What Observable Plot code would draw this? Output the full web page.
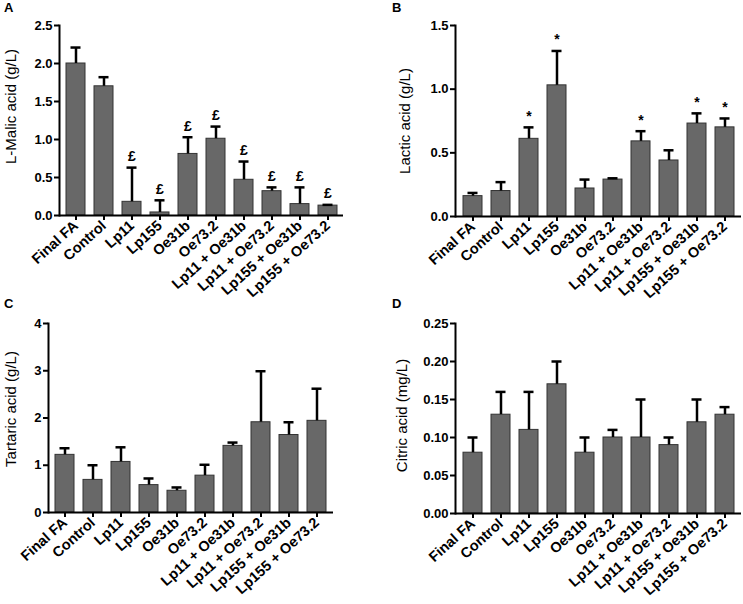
<!DOCTYPE html>
<html>
<head>
<meta charset="utf-8">
<script src="https://cdn.jsdelivr.net/npm/d3@7"></script>
<script src="https://cdn.jsdelivr.net/npm/@observablehq/plot@0.6"></script>
<style>
  body { margin: 0; background: #fff; }
  #root { position: relative; width: 743px; height: 604px; overflow: hidden; background: #fff; }
  .panel { position: absolute; }
  .letter { position: absolute; font-family: "Liberation Sans", Arial, sans-serif; font-weight: bold; font-size: 13px; color: #000; }
</style>
</head>
<body>
<div id="root"></div>
<script>
const categories = ["Final FA", "Control", "Lp11", "Lp155", "Oe31b", "Oe73.2", "Lp11 + Oe31b", "Lp11 + Oe73.2", "Lp155 + Oe31b", "Lp155 + Oe73.2"];

// Panel A: L-Malic acid (g/L)
const malicMean  = [2.00, 1.70, 0.18, 0.04, 0.81, 1.01, 0.47, 0.32, 0.15, 0.13];
const malicUpper = [2.21, 1.82, 0.63, 0.20, 1.03, 1.17, 0.71, 0.37, 0.37, 0.14];
const malicSig   = ["", "", "£", "£", "£", "£", "£", "£", "£", "£"];
const malicTicks = [0, 0.5, 1.0, 1.5, 2.0, 2.5];

// Panel B: Lactic acid (g/L)
const lacticMean  = [0.16, 0.20, 0.61, 1.03, 0.22, 0.29, 0.59, 0.44, 0.73, 0.70];
const lacticUpper = [0.185, 0.27, 0.70, 1.30, 0.29, 0.30, 0.67, 0.52, 0.81, 0.77];
const lacticSig   = ["", "", "*", "*", "", "", "*", "", "*", "*"];
const lacticTicks = [0, 0.5, 1.0, 1.5];

// Panel C: Tartaric acid (g/L)
const tartaricMean  = [1.22, 0.69, 1.07, 0.58, 0.46, 0.78, 1.41, 1.91, 1.64, 1.94];
const tartaricUpper = [1.36, 1.00, 1.38, 0.72, 0.53, 1.01, 1.48, 2.99, 1.91, 2.62];
const tartaricSig   = ["", "", "", "", "", "", "", "", "", ""];
const tartaricTicks = [0, 1, 2, 3, 4];

// Panel D: Citric acid (mg/L)
const citricMean  = [0.08, 0.13, 0.11, 0.17, 0.08, 0.10, 0.10, 0.09, 0.12, 0.13];
const citricUpper = [0.10, 0.16, 0.16, 0.20, 0.10, 0.11, 0.15, 0.10, 0.15, 0.14];
const citricSig   = ["", "", "", "", "", "", "", "", "", ""];
const citricTicks = [0, 0.05, 0.10, 0.15, 0.20, 0.25];

const FONT = "'Liberation Sans', Arial, Helvetica, sans-serif";

function panel(cfg) {
  const data = categories.map((c, i) => ({cat: c, v: cfg.mean[i], u: cfg.upper[i], s: cfg.sig[i]}));
  const plot = Plot.plot({
    width: cfg.width,
    height: cfg.height,
    marginTop: cfg.mt, marginRight: cfg.mr, marginBottom: cfg.mb, marginLeft: cfg.ml,
    style: {fontFamily: FONT, fontSize: "13px", fontWeight: "bold", color: "#000", background: "#fff", overflow: "visible"},
    x: {type: "band", domain: categories, paddingInner: 0.33, paddingOuter: 0.165, label: null},
    y: {domain: cfg.domain, label: null},
    marks: [
      Plot.barY(data, {x: "cat", y: "v", fill: "#686868", stroke: "#333", strokeWidth: 1}),
      Plot.ruleX(data, {x: "cat", y1: "v", y2: "u", stroke: "#000", strokeWidth: 2.5}),
      Plot.tickY(data, {x: "cat", y: "u", stroke: "#000", strokeWidth: 2.5, insetLeft: 4.5, insetRight: 4.5}),
      Plot.text(data, {x: "cat", y: "u", text: "s", dy: -11, fontSize: 14, fontWeight: "bold", fill: "#000"}),
      Plot.ruleY([0], {stroke: "#000", strokeWidth: 2}),
      Plot.frame({anchor: "left", stroke: "#000", strokeWidth: 2}),
      Plot.axisY({ticks: cfg.ticks, tickFormat: d3.format(cfg.fmt), tickSize: 5, tickPadding: 2, strokeWidth: 2, label: null, fontSize: 13}),
      Plot.axisX({tickSize: 5, tickPadding: 3, tickRotate: -42, strokeWidth: 2, label: null, fontSize: 14.5}),
      Plot.text([cfg.title], {frameAnchor: "left", textAnchor: "middle", rotate: -90, dx: cfg.tdx, dy: cfg.tdy, fontSize: 15, fontWeight: "normal", fill: "#000"})
    ]
  });
  const div = document.createElement("div");
  div.className = "panel";
  div.style.left = cfg.left + "px";
  div.style.top = cfg.top + "px";
  div.appendChild(plot);
  document.getElementById("root").appendChild(div);
  const l = document.createElement("div");
  l.className = "letter";
  l.textContent = cfg.letter;
  l.style.left = cfg.lx + "px";
  l.style.top = cfg.ly + "px";
  document.getElementById("root").appendChild(l);
}

panel({letter: "A", lx: 4, ly: 0, left: 0, top: 0, width: 370, height: 300, mt: 25, mr: 27, mb: 85, ml: 59,
  domain: [0, 2.5], ticks: malicTicks, fmt: ".1f", mean: malicMean, upper: malicUpper, sig: malicSig,
  title: "L-Malic acid (g/L)", tdx: -48, tdy: -14});
panel({letter: "B", lx: 392, ly: 0, left: 370, top: 0, width: 373, height: 300, mt: 25, mr: 2, mb: 84, ml: 85,
  domain: [0, 1.5], ticks: lacticTicks, fmt: ".1f", mean: lacticMean, upper: lacticUpper, sig: lacticSig,
  title: "Lactic acid (g/L)", tdx: -50, tdy: 0});
panel({letter: "C", lx: 4, ly: 296, left: 0, top: 300, width: 370, height: 304, mt: 23, mr: 37, mb: 92, ml: 48,
  domain: [0, 4], ticks: tartaricTicks, fmt: "d", mean: tartaricMean, upper: tartaricUpper, sig: tartaricSig,
  title: "Tartaric acid (g/L)", tdx: -37, tdy: -9});
panel({letter: "D", lx: 392, ly: 296, left: 370, top: 300, width: 373, height: 304, mt: 23, mr: 2, mb: 91, ml: 85,
  domain: [0, 0.25], ticks: citricTicks, fmt: ".2f", mean: citricMean, upper: citricUpper, sig: citricSig,
  title: "Citric acid (mg/L)", tdx: -53, tdy: -3});
</script>
</body>
</html>
